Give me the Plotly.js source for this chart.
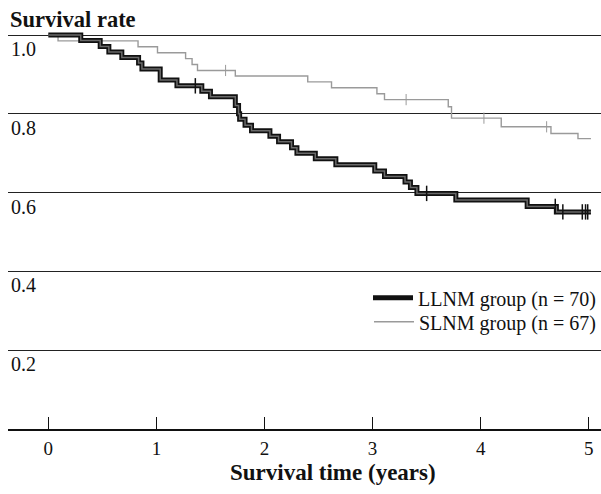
<!DOCTYPE html>
<html>
<head>
<meta charset="utf-8">
<script src="https://cdn.plot.ly/plotly-3.0.1.min.js"></script>
<style>html,body{margin:0;padding:0;background:#fff;}#chart{width:601px;height:494px;}</style>
</head>
<body>
<div id="chart"></div>
<script>
// LLNM group (n = 70) Kaplan-Meier steps
const llnmTime = [0, 0.30, 0.48, 0.56, 0.68, 0.835, 0.866, 1.035, 1.19, 1.42, 1.50, 1.73, 1.76, 1.77, 1.82, 1.88, 2.05, 2.13, 2.25, 2.30, 2.47, 2.66, 3.02, 3.11, 3.30, 3.35, 3.41, 3.77, 4.43, 4.70, 5.02];
const llnmSurv = [1.0, 0.986, 0.971, 0.957, 0.943, 0.929, 0.914, 0.886, 0.871, 0.857, 0.843, 0.821, 0.800, 0.786, 0.771, 0.757, 0.743, 0.729, 0.714, 0.700, 0.686, 0.671, 0.655, 0.641, 0.627, 0.613, 0.598, 0.581, 0.565, 0.551, 0.551];
const llnmCensTime = [1.36, 3.50, 4.69, 4.76, 4.94, 4.97, 4.99];
const llnmCensSurv = [0.871, 0.598, 0.565, 0.551, 0.551, 0.551, 0.551];

// SLNM group (n = 67)
const slnmTime = [0, 0.09, 0.83, 1.01, 1.27, 1.33, 1.38, 1.73, 2.40, 2.62, 3.04, 3.11, 3.70, 3.73, 4.19, 4.65, 4.90, 5.02];
const slnmSurv = [1.0, 0.985, 0.970, 0.955, 0.940, 0.925, 0.910, 0.896, 0.881, 0.866, 0.851, 0.836, 0.818, 0.789, 0.767, 0.750, 0.737, 0.737];
const slnmCensTime = [1.64, 3.31, 4.03, 4.61];
const slnmCensSurv = [0.910, 0.836, 0.789, 0.767];

const xTicks = [0, 1, 2, 3, 4, 5];
const xTickText = ['0', '1', '2', '3', '4', '5'];
const yTicks = [0.2, 0.4, 0.6, 0.8, 1.0];
const yTickText = ['0.2', '0.4', '0.6', '0.8', '1.0'];

const names = ['LLNM group (n = 70)', 'SLNM group (n = 67)'];

const serif = 'Liberation Serif, Times New Roman, serif';

const traces = [
  {x: slnmTime, y: slnmSurv, mode: 'lines', line: {shape: 'hv', color: '#9a9a9a', width: 1.4}, name: names[1], showlegend: true, legend: 'legend2'},
  {x: slnmCensTime, y: slnmCensSurv, mode: 'markers', marker: {symbol: 'line-ns', size: 8, line: {color: '#9a9a9a', width: 1}}, showlegend: false, hoverinfo: 'skip'},
  {x: llnmTime, y: llnmSurv, mode: 'lines', line: {shape: 'hv', color: '#111', width: 5}, name: names[0], showlegend: true, legend: 'legend'},
  {x: llnmTime, y: llnmSurv, mode: 'lines', line: {shape: 'hv', color: '#6a6a6a', width: 1.5}, showlegend: false, hoverinfo: 'skip'},
  {x: llnmCensTime, y: llnmCensSurv, mode: 'markers', marker: {symbol: 'line-ns', size: 11, line: {color: '#111', width: 1.5}}, showlegend: false, hoverinfo: 'skip'}
];

const legendFont = {family: serif, size: 20, color: '#111'};

const layout = {
  width: 601, height: 494,
  margin: {l: 8, r: 0, t: 30, b: 65},
  paper_bgcolor: '#fff', plot_bgcolor: '#fff',
  font: {family: serif, color: '#111', size: 19},
  title: {text: 'Survival rate', font: {family: serif, size: 22.5, color: '#111', weight: 'bold'}, x: 10/601, xanchor: 'left', xref: 'container', y: 1 - 19/494, yanchor: 'middle', yref: 'container'},
  xaxis: {
    range: [-0.373, 5.113], tickvals: xTicks, ticktext: xTickText,
    showline: true, linecolor: '#111', linewidth: 1.5,
    ticks: 'inside', ticklen: 12, tickwidth: 1, tickcolor: '#111',
    showgrid: false, zeroline: false, ticklabelstandoff: 2,
    tickfont: {family: serif, size: 19, color: '#111'}
  },
  yaxis: {
    range: [0, 1.0127], tickvals: yTicks, ticktext: yTickText,
    showline: false, zeroline: false, ticks: '',
    showgrid: true, gridcolor: '#222', gridwidth: 1,
    ticklabelposition: 'inside', ticklabelshift: 14,
    tickfont: {family: serif, size: 20, color: '#111'}
  },
  legend: {x: 1, xanchor: 'right', y: (429.3 - 298) / 399.3, yanchor: 'middle', bgcolor: 'rgba(0,0,0,0)', font: legendFont, itemwidth: 40},
  legend2: {x: 1, xanchor: 'right', y: (429.3 - 322) / 399.3, yanchor: 'middle', bgcolor: 'rgba(0,0,0,0)', font: legendFont, itemwidth: 40},
  annotations: [
    {text: 'Survival time (years)', xref: 'paper', yref: 'paper', x: 0.548, y: -0.109, xanchor: 'center', yanchor: 'middle', showarrow: false, font: {family: serif, size: 23, color: '#111', weight: 'bold'}}
  ]
};

Plotly.newPlot('chart', traces, layout, {displayModeBar: false, staticPlot: true});
</script>
</body>
</html>
